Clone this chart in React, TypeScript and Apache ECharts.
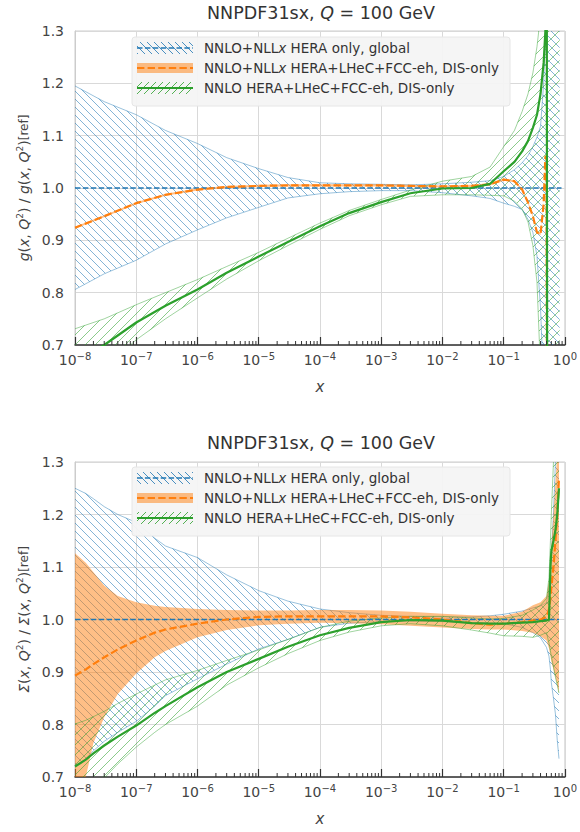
import React, { useEffect, useRef } from 'react';
import * as echarts from 'echarts';

const FONT = 'DejaVu Sans';
const TXT = '#333333';
const LBL = '#444444';
const GRIDC = '#d9d9d9';
const BLUE = '#1f77b4';
const ORANGE = '#ff7f0e';
const GREEN = '#2ca02c';
const BLUE_LT = 'rgba(31,119,180,0.5)';
const GREEN_LT = 'rgba(44,160,44,0.5)';
const ORANGE_FILL = 'rgba(255,127,14,0.5)';

const titleText = 'NNPDF31sx, {i|Q} = 100 GeV';
const legendLabels = [
  'NNLO+NLL{i|x} HERA only, global',
  'NNLO+NLL{i|x} HERA+LHeC+FCC-eh, DIS-only',
  'NNLO HERA+LHeC+FCC-eh, DIS-only',
];
const yNames = [
  '{i|g}({i|x}, {i|Q}{s|2}) / {i|g}({i|x}, {i|Q}{s|2}){r|[ref]}',
  '{i|Σ}({i|x}, {i|Q}{s|2}) / {i|Σ}({i|x}, {i|Q}{s|2}){r|[ref]}',
];
const yTickMin = 0.7;
const yTickMax = 1.3;
const yTickStep = 0.1;
const minorMult = [2, 3, 4, 5, 6, 7, 8, 9];
const decadeExp = [-8, -7, -6, -5, -4, -3, -2, -1];

// reference (blue dashed) line
const refXTop = [1e-8, 0.88];
const refXBot = [1e-8, 0.8];
const refY = [1.0, 1.0];

// ---------- top panel: gluon ----------
const xTop = [1e-8, 3e-8, 1e-7, 3e-7, 1e-6, 3e-6, 1e-5, 3e-5, 1e-4, 3e-4, 1e-3, 3e-3, 1e-2, 3e-2, 0.06, 0.1, 0.15, 0.2, 0.25, 0.3, 0.35, 0.4, 0.45, 0.48, 0.5, 0.516, 0.6, 0.7, 0.82];
const gBlueHi = [1.195, 1.165, 1.14, 1.11, 1.085, 1.058, 1.037, 1.02, 1.01, 1.008, 1.007, 1.006, 1.008, 1.011, 1.014, 1.022, 1.035, 1.048, 1.062, 1.079, 1.097, 1.118, 1.2, 1.3, 1.5, 2.0, 2.0, 2.0, 2.0];
const gBlueLo = [0.806, 0.836, 0.862, 0.893, 0.92, 0.943, 0.963, 0.981, 0.989, 0.993, 0.995, 0.995, 0.991, 0.985, 0.98, 0.971, 0.965, 0.959, 0.94, 0.915, 0.87, 0.77, 0.62, 0.5, 0.4, 0.3, 0.3, 0.3, 0.3];
const gOrangeMid = [0.924, 0.946, 0.971, 0.987, 0.997, 1.002, 1.004, 1.005, 1.005, 1.005, 1.005, 1.004, 1.003, 1.004, 1.007, 1.016, 1.013, 0.997, 0.972, 0.946, 0.915, 0.912, 0.97, 1.06, 1.06, 0.3, 0.3, 0.3, 0.3];
const gOrangeHi = [0.926, 0.948, 0.973, 0.989, 0.999, 1.004, 1.006, 1.007, 1.007, 1.007, 1.007, 1.006, 1.005, 1.006, 1.009, 1.018, 1.015, 0.999, 0.974, 0.948, 0.917, 0.914, 0.972, 1.062, 1.062, 0.3, 0.3, 0.3, 0.3];
const gOrangeLo = [0.922, 0.944, 0.969, 0.985, 0.995, 1.0, 1.002, 1.003, 1.003, 1.003, 1.003, 1.002, 1.001, 1.002, 1.005, 1.014, 1.011, 0.995, 0.97, 0.944, 0.913, 0.91, 0.968, 1.058, 1.058, 0.3, 0.3, 0.3, 0.3];
const gGreenMid = [0.668, 0.7, 0.743, 0.775, 0.806, 0.838, 0.869, 0.897, 0.927, 0.952, 0.973, 0.99, 0.999, 1.0, 1.008, 1.032, 1.05, 1.07, 1.09, 1.115, 1.14, 1.18, 1.24, 1.3, 2.0, 0.3, 0.3, 0.3, 0.3];
const gGreenHi = [0.731, 0.75, 0.777, 0.8, 0.825, 0.85, 0.877, 0.904, 0.933, 0.957, 0.978, 0.996, 1.013, 1.022, 1.04, 1.079, 1.11, 1.146, 1.18, 1.22, 1.27, 1.33, 1.6, 2.0, 2.5, 2.5, 2.5, 2.5, 2.5];
const gGreenLo = [0.605, 0.655, 0.71, 0.75, 0.79, 0.826, 0.861, 0.89, 0.921, 0.947, 0.968, 0.984, 0.987, 0.987, 0.986, 0.985, 0.975, 0.96, 0.935, 0.89, 0.82, 0.65, 0.4, 0.3, 0.3, 0.3, 0.3, 0.3, 0.3];

// ---------- bottom panel: singlet ----------
const xBot = [1e-8, 1.5e-8, 2e-8, 3e-8, 5e-8, 1e-7, 2e-7, 3e-7, 1e-6, 3e-6, 1e-5, 3e-5, 1e-4, 3e-4, 1e-3, 3e-3, 1e-2, 3e-2, 0.06, 0.1, 0.2, 0.3, 0.4, 0.5, 0.55, 0.58, 0.6, 0.65, 0.7, 0.75, 0.8];
const sBlueHi = [1.25, 1.24, 1.23, 1.215, 1.2, 1.185, 1.155, 1.14, 1.118, 1.085, 1.055, 1.035, 1.02, 1.013, 1.008, 1.006, 1.005, 1.005, 1.007, 1.01, 1.016, 1.022, 1.026, 1.032, 1.06, 1.09, 1.12, 1.2, 1.3, 1.4, 1.5];
const sBlueLo = [0.72, 0.735, 0.75, 0.768, 0.785, 0.806, 0.835, 0.855, 0.887, 0.915, 0.944, 0.962, 0.985, 0.993, 0.996, 0.997, 0.996, 0.994, 0.993, 0.992, 0.985, 0.975, 0.965, 0.947, 0.93, 0.905, 0.88, 0.85, 0.82, 0.77, 0.735];
const sOrangeHi = [1.126, 1.108, 1.09, 1.065, 1.045, 1.033, 1.026, 1.024, 1.02, 1.018, 1.017, 1.017, 1.018, 1.018, 1.017, 1.015, 1.011, 1.008, 1.007, 1.007, 1.015, 1.027, 1.033, 1.045, 1.075, 1.11, 1.14, 1.2, 1.26, 1.32, 1.5];
const sOrangeLo = [0.55, 0.7, 0.765, 0.814, 0.858, 0.897, 0.928, 0.94, 0.966, 0.98, 0.989, 0.992, 0.994, 0.993, 0.991, 0.988, 0.985, 0.982, 0.981, 0.981, 0.978, 0.975, 0.968, 0.96, 0.945, 0.93, 0.92, 0.905, 0.89, 0.875, 0.86];
const sOrangeMid = [0.893, 0.905, 0.915, 0.928, 0.943, 0.96, 0.975, 0.981, 0.992, 1.0, 1.005, 1.006, 1.006, 1.006, 1.006, 1.004, 1.0, 0.993, 0.99, 0.992, 0.995, 0.998, 1.0, 1.005, 1.02, 1.04, 1.06, 1.1, 1.15, 1.2, 1.27];
const sGreenMid = [0.72, 0.733, 0.745, 0.76, 0.777, 0.798, 0.822, 0.835, 0.871, 0.9, 0.925, 0.948, 0.97, 0.984, 0.995, 0.999, 0.998, 0.993, 0.992, 0.992, 0.994, 0.995, 0.997, 0.998, 1.0, 1.1, 1.13, 1.15, 1.17, 1.2, 1.25];
const sGreenHi = [0.801, 0.808, 0.815, 0.825, 0.84, 0.858, 0.875, 0.885, 0.903, 0.922, 0.942, 0.962, 0.985, 0.997, 1.003, 1.006, 1.006, 1.003, 1.001, 1.002, 1.008, 1.018, 1.027, 1.04, 1.08, 1.15, 1.2, 1.3, 1.4, 1.5, 1.6];
const sGreenLo = [0.64, 0.66, 0.675, 0.698, 0.725, 0.757, 0.785, 0.8, 0.835, 0.875, 0.908, 0.935, 0.96, 0.976, 0.988, 0.992, 0.988, 0.98, 0.974, 0.969, 0.968, 0.966, 0.97, 0.975, 0.955, 0.94, 0.93, 0.91, 0.89, 0.875, 0.86];

function hatch(dir: 'back' | 'fwd', s: number, color: string, w: number) {
  const d = dir === 'back'
    ? `M-1,-1L${s + 1},${s + 1}M-1,${s - 1}L1,${s + 1}M${s - 1},-1L${s + 1},1`
    : `M-1,${s + 1}L${s + 1},-1M-1,1L1,-1M${s - 1},${s + 1}L${s + 1},${s - 1}`;
  const svg = `<svg xmlns="http://www.w3.org/2000/svg" width="${s}" height="${s}"><path d="${d}" stroke="${color}" stroke-width="${w}" fill="none"/></svg>`;
  return {
    image: 'data:image/svg+xml;charset=utf-8,' + encodeURIComponent(svg),
    repeat: 'repeat',
    imageWidth: s,
    imageHeight: s,
  };
}

function bandSeries(idx: number, xs: number[], lo: number[], hi: number[], fill: any, edge: string, edgeW: number) {
  return {
    type: 'custom',
    xAxisIndex: idx,
    yAxisIndex: idx,
    clip: true,
    silent: true,
    data: xs.map((x, i) => [x, lo[i], hi[i]]),
    encode: { x: 0, y: [1, 2] },
    renderItem: (params: any, api: any) => {
      if (params.dataIndex !== 0) return null;
      const up = xs.map((x, i) => api.coord([x, hi[i]]));
      const dn = xs.map((x, i) => api.coord([x, lo[i]]));
      const children: any[] = [
        { type: 'polygon', shape: { points: up.concat(dn.slice().reverse()) }, style: { fill, stroke: null, lineWidth: 0 } },
      ];
      if (edgeW > 0) {
        children.push({ type: 'polyline', shape: { points: up }, style: { stroke: edge, lineWidth: edgeW, fill: null } });
        children.push({ type: 'polyline', shape: { points: dn }, style: { stroke: edge, lineWidth: edgeW, fill: null } });
      }
      return { type: 'group', children };
    },
  };
}

function lineSeries(idx: number, xs: number[], ys: number[], color: string, width: number, dash?: number[]) {
  return {
    type: 'line',
    xAxisIndex: idx,
    yAxisIndex: idx,
    data: xs.map((x, i) => [x, ys[i]]),
    symbol: 'none',
    silent: true,
    clip: true,
    emphasis: { disabled: true },
    lineStyle: { color, width, type: dash ? dash : 'solid' },
  };
}

export default function App() {
  const ref = useRef<HTMLDivElement>(null);
  useEffect(() => {
    const chart = echarts.init(ref.current!, null, { renderer: 'svg' });
    const blueHatch = hatch('back', 8, 'rgba(31,119,180,0.55)', 1);
    const greenHatch = hatch('fwd', 10, 'rgba(44,160,44,0.55)', 1);
    const blueHatchLeg = hatch('back', 7, 'rgba(31,119,180,0.8)', 1);
    const greenHatchLeg = hatch('fwd', 7, 'rgba(44,160,44,0.8)', 1);

    const minorTickX: number[] = [];
    decadeExp.forEach((e) => minorMult.forEach((m) => minorTickX.push(m * Math.pow(10, e))));

    const panels = [
      { top: 31, height: 314, oy: 0 },
      { top: 462, height: 315, oy: 430 },
    ];

    const richFont = (extra: any) => ({ fontFamily: FONT, color: LBL, ...extra });

    const xAxis = panels.map((p, i) => ({
      type: 'log',
      logBase: 10,
      gridIndex: i,
      min: 1e-8,
      max: 1,
      interval: 1,
      splitNumber: 8,
      axisLine: { show: true, onZero: false, lineStyle: { color: '#333', width: 1.5 } },
      axisTick: { show: true, inside: true, length: 8, lineStyle: { color: '#333', width: 1.2 } },
      minorTick: { show: false },
      splitLine: { show: true, lineStyle: { color: GRIDC, width: 1 } },
      axisLabel: {
        margin: 6,
        formatter: (v: number) => {
          const e = Math.round(Math.log10(v));
          return '{b|10}{s|' + (e < 0 ? '\u2212' + -e : String(e)) + '}';
        },
        rich: {
          b: richFont({ fontSize: 14 }),
          s: richFont({ fontSize: 10, padding: [0, 0, 8, 0] }),
        },
      },
      name: 'x',
      nameLocation: 'middle',
      nameGap: 34,
      nameTextStyle: { fontFamily: FONT, fontSize: 15, fontStyle: 'italic', color: LBL },
    }));

    const yAxis = panels.map((p, i) => ({
      type: 'value',
      gridIndex: i,
      min: yTickMin,
      max: yTickMax,
      interval: yTickStep,
      axisLine: { show: true, lineStyle: { color: '#cccccc', width: 1 } },
      axisTick: { show: false },
      splitLine: { show: true, lineStyle: { color: GRIDC, width: 1 } },
      axisLabel: {
        margin: 11,
        fontSize: 14,
        fontFamily: FONT,
        color: LBL,
        formatter: (v: number) => v.toFixed(1),
      },
      name: yNames[i],
      nameLocation: 'middle',
      nameRotate: 90,
      nameGap: 39,
      nameTextStyle: {
        fontFamily: FONT,
        fontSize: 14,
        color: LBL,
        rich: {
          i: richFont({ fontSize: 14, fontStyle: 'italic' }),
          s: richFont({ fontSize: 9, padding: [0, 0, 7, 0] }),
          r: richFont({ fontSize: 12 }),
        },
      },
    }));

    const series: any[] = [
      // top
      bandSeries(0, xTop, gBlueLo, gBlueHi, blueHatch, BLUE_LT, 0.9),
      lineSeries(0, refXTop, refY, BLUE, 1.6, [5.5, 2.4]),
      bandSeries(0, xTop, gOrangeLo, gOrangeHi, ORANGE_FILL, ORANGE, 0),
      lineSeries(0, xTop, gOrangeMid, ORANGE, 2.2, [7.4, 3.2]),
      bandSeries(0, xTop, gGreenLo, gGreenHi, greenHatch, GREEN_LT, 0.9),
      lineSeries(0, xTop, gGreenMid, GREEN, 2.2),
      // bottom
      bandSeries(1, xBot, sBlueLo, sBlueHi, blueHatch, BLUE_LT, 0.9),
      lineSeries(1, refXBot, refY, BLUE, 1.6, [5.5, 2.4]),
      bandSeries(1, xBot, sOrangeLo, sOrangeHi, ORANGE_FILL, ORANGE, 0),
      lineSeries(1, xBot, sOrangeMid, ORANGE, 2.2, [7.4, 3.2]),
      bandSeries(1, xBot, sGreenLo, sGreenHi, greenHatch, GREEN_LT, 0.9),
      lineSeries(1, xBot, sGreenMid, GREEN, 2.2),
    ];

    panels.forEach((p, i) => {
      series.push({
        type: 'custom',
        xAxisIndex: i,
        yAxisIndex: i,
        silent: true,
        clip: false,
        z: 5,
        data: minorTickX.map((x) => [x, yTickMin]),
        renderItem: (params: any, api: any) => {
          const pt = api.coord([api.value(0), api.value(1)]);
          return {
            type: 'line',
            shape: { x1: pt[0], y1: pt[1], x2: pt[0], y2: pt[1] - 4 },
            style: { stroke: '#333', lineWidth: 1 },
          };
        },
      });
    });

    const graphic: any[] = [];
    panels.forEach((p) => {
      const oy = p.oy;
      graphic.push({
        type: 'text',
        x: 321,
        y: 13 + oy,
        z: 100,
        style: {
          text: titleText,
          fontSize: 17.5,
          fontFamily: FONT,
          fill: TXT,
          align: 'center',
          verticalAlign: 'middle',
          textAlign: 'center',
          textVerticalAlign: 'middle',
          rich: { i: { fontStyle: 'italic', fontSize: 17.5, fontFamily: FONT, fill: TXT } },
        },
      });
      graphic.push({
        type: 'rect',
        z: 100,
        shape: { x: 132, y: 37 + oy, width: 378, height: 69, r: 3 },
        style: { fill: 'rgba(244,244,244,0.95)', stroke: 'rgba(230,230,230,1)', lineWidth: 1 },
      });
      const rows = [48, 68, 88].map((r) => r + oy);
      // blue
      graphic.push({ type: 'rect', z: 101, shape: { x: 137, y: rows[0] - 6, width: 56, height: 12 }, style: { fill: blueHatchLeg, stroke: null } });
      graphic.push({ type: 'line', z: 102, shape: { x1: 137, y1: rows[0], x2: 193, y2: rows[0] }, style: { stroke: BLUE, lineWidth: 1.6, lineDash: [5.5, 2.4] } });
      // orange
      graphic.push({ type: 'rect', z: 101, shape: { x: 137, y: rows[1] - 5, width: 56, height: 10 }, style: { fill: ORANGE_FILL, stroke: null } });
      graphic.push({ type: 'line', z: 102, shape: { x1: 137, y1: rows[1], x2: 193, y2: rows[1] }, style: { stroke: ORANGE, lineWidth: 2.2, lineDash: [7.4, 3.2] } });
      // green
      graphic.push({ type: 'rect', z: 101, shape: { x: 137, y: rows[2] - 6, width: 56, height: 12 }, style: { fill: greenHatchLeg, stroke: null } });
      graphic.push({ type: 'line', z: 102, shape: { x1: 137, y1: rows[2], x2: 193, y2: rows[2] }, style: { stroke: GREEN, lineWidth: 2.2 } });
      legendLabels.forEach((lab, k) => {
        graphic.push({
          type: 'text',
          x: 204,
          y: rows[k],
          z: 102,
          style: {
            text: lab,
            fontSize: 13.5,
            fontFamily: FONT,
            fill: TXT,
            align: 'left',
            verticalAlign: 'middle',
            textAlign: 'left',
            textVerticalAlign: 'middle',
            rich: { i: { fontStyle: 'italic', fontSize: 13.5, fontFamily: FONT, fill: TXT } },
          },
        });
      });
    });

    chart.setOption({
      animation: false,
      backgroundColor: '#ffffff',
      grid: panels.map((p) => ({
        left: 75,
        width: 493,
        top: p.top,
        height: p.height,
        show: true,
        borderColor: '#cccccc',
        borderWidth: 1,
        backgroundColor: 'transparent',
      })),
      xAxis,
      yAxis,
      series,
      graphic,
    });
    return () => chart.dispose();
  }, []);
  return <div ref={ref} style={{ position: 'absolute', left: 0, top: 0, width: 580, height: 832 }} />;
}
